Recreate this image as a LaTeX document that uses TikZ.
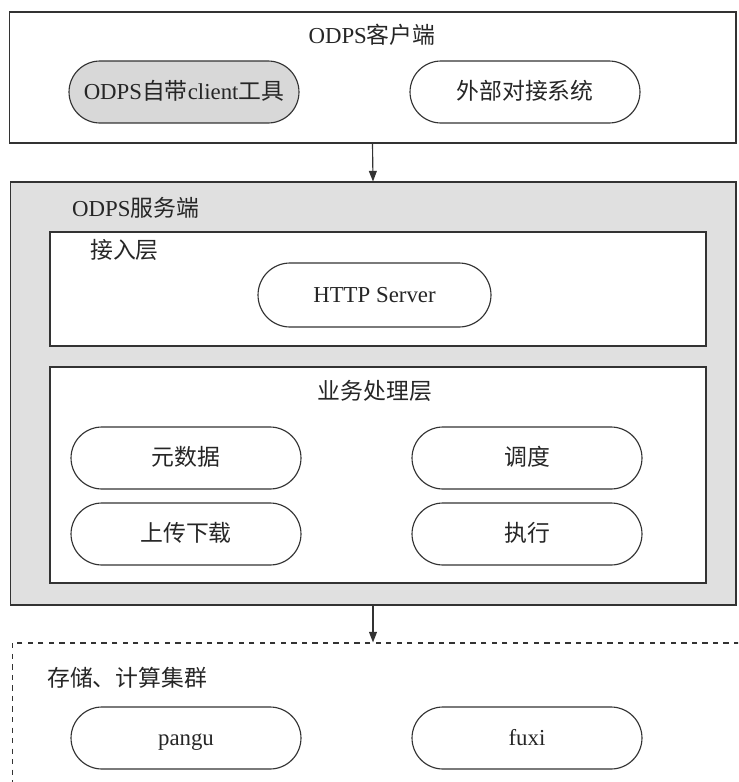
\documentclass[tikz,border=0pt]{standalone}
\usepackage{fontspec}
\setmainfont{Liberation Serif}
\newfontfamily\cjk{Noto Sans CJK SC}
\usepackage{tikz}
\usetikzlibrary{shapes.misc, arrows.meta, positioning}
\definecolor{linecolor}{HTML}{333333}
\definecolor{servergray}{HTML}{E0E0E0}
\definecolor{toolgray}{HTML}{D8D8D8}

\begin{document}
\begin{tikzpicture}[x=0.02cm, y=-0.02cm,
    every node/.style={font=\fontsize{13}{15}\selectfont, text=black!85,
        text height=0.95em, text depth=0.15em},
    layer/.style={draw=linecolor, line width=0.65pt, rectangle, inner sep=0pt},
    pill/.style={draw=linecolor, line width=0.65pt, rounded rectangle,
        minimum width=4.6cm, minimum height=1.24cm, inner sep=0pt},
    flow/.style={draw=linecolor, line width=0.65pt, -{Triangle[length=6pt, width=4.5pt]}}]
    \useasboundingbox (0,0) rectangle (738,782);
    \clip (0,0) rectangle (738,782);

    % Client side
    \node[layer, minimum width=14.54cm, minimum height=2.62cm] (client) at (372.5,77.5) {};
    \node (clientlabel) at (372,36) {ODPS{\cjk 客户端}};
    \node[pill, fill=toolgray] (tool) at (184,92) {ODPS{\cjk 自带}client{\cjk 工具}};
    \node[pill] (external) at (525,92) {\cjk 外部对接系统};

    % Server side
    \node[layer, fill=servergray, minimum width=14.52cm, minimum height=8.46cm] (server) at (373,393.5) {};
    \node[anchor=west] (serverlabel) at (66,209) {ODPS{\cjk 服务端}};

    % Access layer
    \node[layer, fill=white, minimum width=13.12cm, minimum height=2.28cm] (access) at (378,289) {};
    \node[anchor=west] (accesslabel) at (84,251) {\cjk 接入层};
    \node[pill, minimum width=4.66cm, minimum height=1.28cm] (http) at (374.5,295) {HTTP Server};

    % Business layer
    \node[layer, fill=white, minimum width=13.12cm, minimum height=4.32cm] (biz) at (378,475) {};
    \node (bizlabel) at (375,392) {\cjk 业务处理层};
    \node[pill] (meta) at (186,458) {\cjk 元数据};
    \node[pill] (sched) at (527,458) {\cjk 调度};
    \node[pill] (transfer) at (186,534) {\cjk 上传下载};
    \node[pill] (exec) at (527,534) {\cjk 执行};

    % Storage / compute cluster
    \node[layer, dashed, minimum width=14.66cm, minimum height=2.94cm] (cluster) at (378.5,716.5) {};
    \node[anchor=west] (clusterlabel) at (41,679) {\cjk 存储、计算集群};
    \node[pill] (pangu) at (186,738) {pangu};
    \node[pill] (fuxi) at (527,738) {fuxi};

    % Arrows
    \draw[flow] (client.south) -- (server.north);
    \draw[flow] (server.south) -- (server.south |- cluster.north);
\end{tikzpicture}
\end{document}
